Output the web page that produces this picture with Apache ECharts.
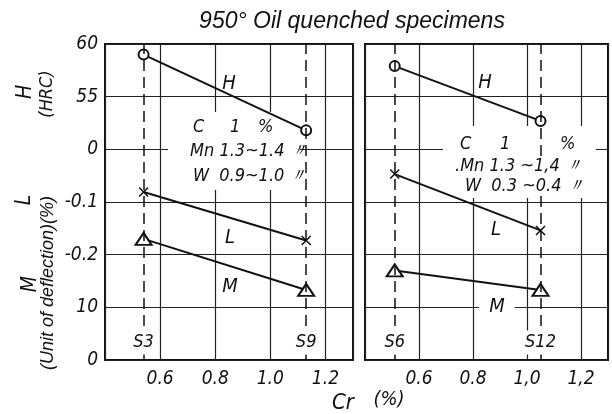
<!DOCTYPE html>
<html>
<head>
<meta charset="utf-8">
<script src="https://cdn.jsdelivr.net/npm/echarts@6/dist/echarts.min.js"></script>
<style>html,body{margin:0;padding:0;background:#fff}#c{width:612px;height:414px}</style>
</head>
<body>
<div id="c"></div>
<script>
// ---- data ----
const crLeft = [0.54, 1.13];          // Cr (%) of S3, S9
const crRight = [0.51, 1.05];         // Cr (%) of S6, S12
const specimensLeft = ['S3', 'S9'];
const specimensRight = ['S6', 'S12'];
const hardnessLeft = [59.0, 51.8];    // H (HRC)
const hardnessRight = [57.9, 52.7];
const lengthLeft = [-0.081, -0.173];  // L (%)
const lengthRight = [-0.047, -0.154];
const deflectLeft = [23.0, 13.3];     // M (unit of deflection)
const deflectRight = [17.0, 13.3];
const yTickLabels = ['0', '10', '-0.2', '-0.1', '0', '55', '60'];
const xTickLabelsLeft = ['0.6', '0.8', '1.0', '1.2'];
const xTickLabelsRight = ['0.6', '0.8', '1,0', '1,2'];
const xTickValues = [0.6, 0.8, 1.0, 1.2];

// ---- stacked scales mapped onto one common 0..6 axis ----
const hPos = h => 4 + (h - 50) / 5;
const lPos = l => 4 + l * 10;
const mPos = m => m / 10;

const FONT = "'Liberation Sans Narrow','DejaVu Sans Condensed','Liberation Sans',sans-serif";
const FONT2 = "'Liberation Sans','DejaVu Sans',sans-serif";
const INK = '#111';

const chart = echarts.init(document.getElementById('c'), null, {renderer: 'canvas'});

function xLabel(labels) {
  return v => {
    const r = Math.round(v * 10) / 10;
    const i = xTickValues.findIndex(t => Math.abs(t - r) < 1e-6);
    return i >= 0 ? labels[i] : '';
  };
}

const crossPath = 'path://M0,0L10,10M10,0L0,10';

function panelSeries(gi, cr, H, L, M, names) {
  const base = {
    type: 'line', xAxisIndex: gi, yAxisIndex: gi, silent: true,
    lineStyle: {color: INK, width: 2},
    itemStyle: {color: INK, borderColor: INK, borderWidth: 1.5},
    z: 3
  };
  return [
    Object.assign({}, base, {
      data: cr.map((c, i) => [c, hPos(H[i])]),
      symbol: 'emptyCircle', symbolSize: 10,
      markLine: {
        silent: true, symbol: 'none', label: {show: false},
        lineStyle: {color: INK, width: 1.5, type: [11, 6]},
        data: cr.map(c => ({xAxis: c}))
      }
    }),
    Object.assign({}, base, {
      data: cr.map((c, i) => [c, lPos(L[i])]),
      symbol: crossPath, symbolSize: 9
    }),
    Object.assign({}, base, {
      data: cr.map((c, i) => [c, mPos(M[i])]),
      symbol: 'emptyTriangle', symbolSize: [16, 12]
    }),
    {
      type: 'scatter', xAxisIndex: gi, yAxisIndex: gi, silent: true,
      symbolSize: 1, itemStyle: {color: '#fff', opacity: 1}, z: 10,
      data: cr.map((c, i) => ({value: [c, 0.33], name: names[i]})),
      label: {
        show: true, position: 'inside', formatter: p => p.name,
        color: INK, opacity: 1, fontSize: 18, fontStyle: 'italic', fontFamily: FONT,
        backgroundColor: '#fff', padding: [3, 1]
      }
    }
  ];
}

function txt(x, y, s, size, extra, family) {
  return {
    type: 'text', x: x, y: y, z: 10, silent: true,
    style: Object.assign({text: s, fill: INK, font: 'italic ' + size + 'px ' + (family || FONT),
            align: 'center', verticalAlign: 'middle'}, extra || {})
  };
}
function txtL(x, y, s, size, extra) {
  return txt(x, y, s, size, Object.assign({align: 'left'}, extra || {}));
}
function rtxt(x, y, s, size, family) {
  const t = txt(x, y, s, size, null, family);
  t.rotation = Math.PI / 2;
  return t;
}
const WB = {backgroundColor: '#fff', padding: [1, 0]};

const axisCommonX = {
  type: 'value', min: 0.4, max: 1.3, interval: 0.2,
  axisLine: {show: false}, axisTick: {show: false},
  splitLine: {show: true, lineStyle: {color: '#222', width: 1.2}}
};
const axisCommonY = {
  type: 'value', min: 0, max: 6, interval: 1,
  axisLine: {show: false}, axisTick: {show: false},
  splitLine: {show: true, lineStyle: {color: '#222', width: 1.2}}
};
const labelStyle = {color: INK, fontSize: 19, fontStyle: 'italic', fontFamily: FONT};

const option = {
  animation: false,
  backgroundColor: '#fff',
  grid: [
    {left: 105, top: 44, width: 248, height: 316, show: true, borderColor: INK, borderWidth: 2, backgroundColor: 'transparent'},
    {left: 365, top: 44, width: 243, height: 316, show: true, borderColor: INK, borderWidth: 2, backgroundColor: 'transparent'}
  ],
  xAxis: [
    Object.assign({}, axisCommonX, {gridIndex: 0, axisLabel: Object.assign({}, labelStyle, {margin: 10, formatter: xLabel(xTickLabelsLeft)})}),
    Object.assign({}, axisCommonX, {gridIndex: 1, axisLabel: Object.assign({}, labelStyle, {margin: 10, formatter: xLabel(xTickLabelsRight)})})
  ],
  yAxis: [
    Object.assign({}, axisCommonY, {gridIndex: 0, axisLabel: Object.assign({}, labelStyle, {margin: 7, formatter: v => yTickLabels[Math.round(v)] || ''})}),
    Object.assign({}, axisCommonY, {gridIndex: 1, axisLabel: {show: false}})
  ],
  series: [].concat(
    panelSeries(0, crLeft, hardnessLeft, lengthLeft, deflectLeft, specimensLeft),
    panelSeries(1, crRight, hardnessRight, lengthRight, deflectRight, specimensRight)
  ),
  graphic: [
    // masks that break the grid behind the composition notes
    {type: 'rect', z: 1, silent: true, shape: {x: 168, y: 112, width: 132, height: 78}, style: {fill: '#fff'}},
    {type: 'rect', z: 1, silent: true, shape: {x: 443, y: 126, width: 153, height: 72}, style: {fill: '#fff'}},
    // title
    txt(352, 22, '950° Oil quenched specimens', 23, null, FONT2),
    // y axis names
    rtxt(26, 92, 'H', 21),
    rtxt(47, 94, '(HRC)', 18),
    rtxt(25, 200, 'L', 21),
    rtxt(31, 284, 'M', 21),
    rtxt(48, 283, '(Unit of deflection)(%)', 18, FONT2),
    // x axis name
    txt(343, 403, 'Cr', 22),
    txt(389, 400, '(%)', 20),
    // series names
    txt(229, 84, 'H', 20), txt(230, 238, 'L', 20), txt(230, 287, 'M', 20),
    txt(485, 83, 'H', 20), txt(496, 230, 'L', 20),
    txt(497, 307, 'M', 20, {backgroundColor: '#fff', padding: [2, 10]}),
    // composition notes, left
    txtL(193, 127, 'C', 18), txtL(230, 127, '1', 18), txtL(258, 127, '%', 18),
    txtL(190, 151, 'Mn 1.3~1.4 〃', 18),
    txtL(193, 176, 'W  0.9~1.0 〃', 18),
    // composition notes, right
    txtL(460, 144, 'C', 18), txtL(500, 144, '1', 18), txtL(560, 144, '%', 18),
    txtL(455, 166, '.Mn 1.3 ~1,4 〃', 18, WB),
    txtL(465, 186, 'W  0.3 ~0.4 〃', 18, WB)
  ]
};
chart.setOption(option);
</script>
</body>
</html>
